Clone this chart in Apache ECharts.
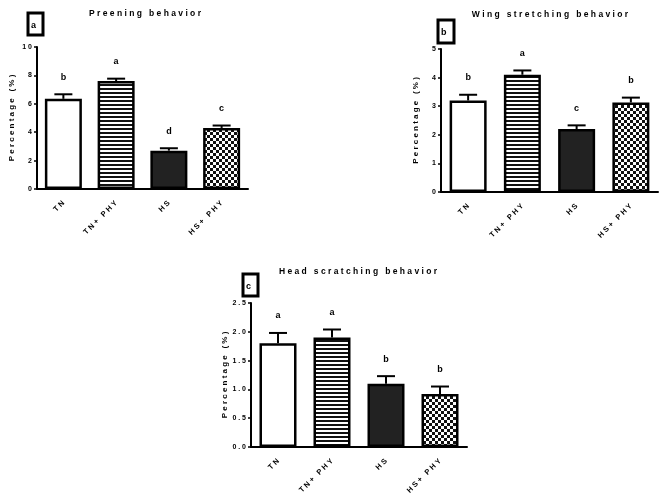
<!DOCTYPE html>
<html>
<head>
<meta charset="utf-8">
<script src="https://cdn.jsdelivr.net/npm/echarts@6/dist/echarts.min.js"></script>
<style>
  html, body { margin: 0; padding: 0; background: #fff; }
  #chart { width: 669px; height: 498px; }
</style>
</head>
<body>
<div id="chart"></div>
<script>
const categories = ['TN', 'TN+ PHY', 'HS', 'HS+ PHY'];

const preeningMean = [6.35, 7.6, 2.7, 4.3];
const preeningSem = [0.32, 0.17, 0.17, 0.17];
const preeningLetters = ['b', 'a', 'd', 'c'];

const wingMean = [3.2, 4.1, 2.2, 3.13];
const wingSem = [0.2, 0.15, 0.13, 0.17];
const wingLetters = ['b', 'a', 'c', 'b'];

const headMean = [1.8, 1.9, 1.1, 0.92];
const headSem = [0.18, 0.14, 0.13, 0.13];
const headLetters = ['a', 'a', 'b', 'b'];

const spaced = (s) => s.split('').join(' ');
const FONT = '"Liberation Sans", Arial, sans-serif';

// fill patterns
const stripes = document.createElement('canvas');
stripes.width = 4; stripes.height = 4;
let ctx = stripes.getContext('2d');
ctx.fillStyle = '#fff'; ctx.fillRect(0, 0, 4, 4);
ctx.fillStyle = '#111'; ctx.fillRect(0, 0, 4, 2);

const checks = document.createElement('canvas');
checks.width = 6; checks.height = 6;
ctx = checks.getContext('2d');
ctx.fillStyle = '#fff'; ctx.fillRect(0, 0, 6, 6);
ctx.fillStyle = '#111';
ctx.fillRect(0, 0, 3, 3); ctx.fillRect(3, 3, 3, 3);

const fills = [
  '#ffffff',
  { image: stripes, repeat: 'repeat' },
  '#222222',
  { image: checks, repeat: 'repeat' }
];

const grids = [
  { left: 37, top: 47, width: 211, height: 142 },
  { left: 441, top: 49, width: 217, height: 143 },
  { left: 251, top: 303, width: 216, height: 144 }
];

const panels = [
  { mean: preeningMean, sem: preeningSem, letters: preeningLetters, max: 10, interval: 2, dec: 0 },
  { mean: wingMean, sem: wingSem, letters: wingLetters, max: 5, interval: 1, dec: 0 },
  { mean: headMean, sem: headSem, letters: headLetters, max: 2.5, interval: 0.5, dec: 1 }
];

const xAxes = [], yAxes = [], series = [];
panels.forEach((p, i) => {
  xAxes.push({
    type: 'category', gridIndex: i, data: categories,
    axisLine: { lineStyle: { color: '#000', width: 2 } },
    axisTick: { alignWithLabel: true, length: 4, lineStyle: { color: '#000', width: 1.5 } },
    axisLabel: {
      rotate: 45, margin: 13, color: '#000', fontSize: 7.5, fontWeight: 'bold', fontFamily: FONT,
      formatter: (v) => spaced(v)
    }
  });
  yAxes.push({
    type: 'value', gridIndex: i, min: 0, max: p.max, interval: p.interval,
    name: spaced('Percentage (%)'), nameLocation: 'middle', nameGap: 21,
    nameTextStyle: { color: '#000', fontSize: 8, fontWeight: 'bold', fontFamily: FONT },
    splitLine: { show: false },
    axisLine: { show: true, lineStyle: { color: '#000', width: 2 } },
    axisTick: { show: true, length: 3, lineStyle: { color: '#000', width: 1.5 } },
    axisLabel: {
      margin: 5, color: '#000', fontSize: 7, fontWeight: 'bold', fontFamily: FONT,
      formatter: (v) => spaced(v.toFixed(p.dec))
    }
  });
  series.push({
    type: 'bar', xAxisIndex: i, yAxisIndex: i, barWidth: 37,
    data: p.mean.map((v, k) => ({
      value: v,
      itemStyle: { color: fills[k], borderColor: '#000', borderWidth: 2.5 }
    })),
    z: 2
  });
  series.push({
    type: 'custom', xAxisIndex: i, yAxisIndex: i, z: 3,
    data: p.mean.map((v, k) => [k, v, v + p.sem[k]]),
    renderItem: (params, api) => {
      const k = api.value(0);
      const base = api.coord([k, api.value(1)]);
      const top = api.coord([k, api.value(2)]);
      const capHalf = 9;
      return {
        type: 'group',
        children: [
          { type: 'line', shape: { x1: base[0], y1: base[1], x2: top[0], y2: top[1] },
            style: { stroke: '#000', lineWidth: 2 } },
          { type: 'line', shape: { x1: top[0] - capHalf, y1: top[1], x2: top[0] + capHalf, y2: top[1] },
            style: { stroke: '#000', lineWidth: 2 } },
          { type: 'text', x: top[0], y: top[1] - 17,
            style: { text: p.letters[k], textAlign: 'center', textVerticalAlign: 'middle',
              fill: '#000', font: 'bold 9px ' + FONT } }
        ]
      };
    }
  });
});

const titles = [
  { text: 'Preening behavior', x: 145, y: 14 },
  { text: 'Wing stretching behavior', x: 550, y: 15 },
  { text: 'Head scratching behavior', x: 358, y: 272 }
];
const boxes = [
  { letter: 'a', x: 28, y: 13, w: 15, h: 22 },
  { letter: 'b', x: 438, y: 20, w: 16, h: 23 },
  { letter: 'c', x: 243, y: 274, w: 15, h: 22 }
];

const graphic = [];
titles.forEach((t) => graphic.push({
  type: 'text', x: t.x, y: t.y,
  style: { text: spaced(t.text), textAlign: 'center', textVerticalAlign: 'middle',
    fill: '#000', font: 'bold 8.5px ' + FONT }
}));
boxes.forEach((b) => {
  graphic.push({
    type: 'rect', shape: { x: b.x, y: b.y, width: b.w, height: b.h },
    style: { fill: '#fff', stroke: '#000', lineWidth: 3 }
  });
  graphic.push({
    type: 'text', x: b.x + 3, y: b.y + 13,
    style: { text: b.letter, textAlign: 'left', textVerticalAlign: 'middle',
      fill: '#000', font: 'bold 9px ' + FONT }
  });
});

const chart = echarts.init(document.getElementById('chart'));
chart.setOption({
  animation: false,
  backgroundColor: '#fff',
  grid: grids,
  xAxis: xAxes,
  yAxis: yAxes,
  series: series,
  graphic: graphic
});
</script>
</body>
</html>
